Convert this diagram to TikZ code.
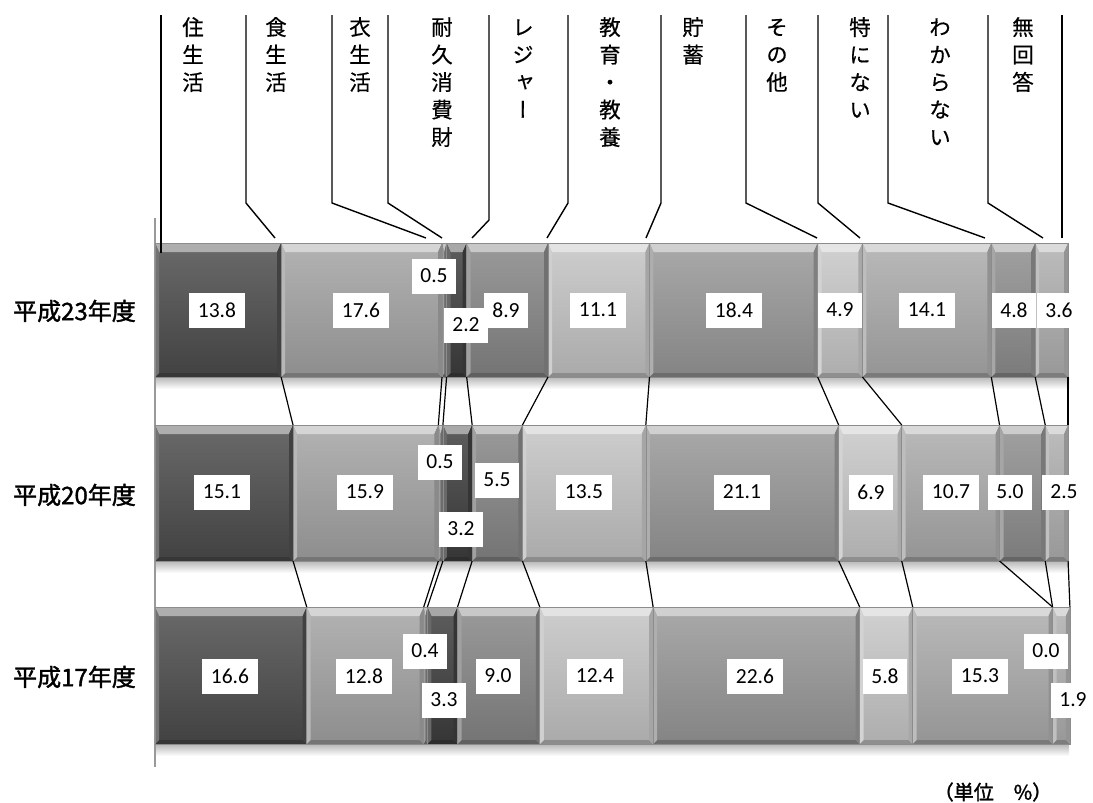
\documentclass[tikz,border=0pt]{standalone}
\usepackage{fontspec}
\newfontfamily\jpn{Noto Sans CJK JP}
\newfontfamily\jpv{Noto Sans CJK JP}[RawFeature=+vert, FakeBold=0.5]
\newfontfamily\jpb{Noto Sans CJK JP}[FakeBold=1.6]
\newfontfamily\numf{Carlito}
\definecolor{c1}{HTML}{4C4C4C}
\definecolor{c2}{HTML}{A2A2A2}
\definecolor{c3}{HTML}{808080}
\definecolor{c4}{HTML}{3E3E3E}
\definecolor{c5}{HTML}{858585}
\definecolor{c6}{HTML}{C2C2C2}
\definecolor{c7}{HTML}{979797}
\definecolor{c8}{HTML}{C6C6C6}
\definecolor{c9}{HTML}{AAAAAA}
\definecolor{c10}{HTML}{8D8D8D}
\definecolor{c11}{HTML}{AEAEAE}
\tikzset{
  val/.style={fill=white, inner xsep=8.5pt, inner ysep=0pt, minimum height=35pt,
    font=\numf\fontsize{21.5}{21.5}\selectfont, text=black},
  hdr/.style={anchor=north, inner sep=0pt, align=center,
    font=\jpv\fontsize{21.5}{27.5}\selectfont},
  yr/.style={anchor=east, inner sep=0pt, font=\jpb\fontsize{24}{24}\selectfont},
  lead/.style={black, line width=1.4pt},
  serl/.style={black, line width=1.2pt},
  axisl/.style={black!40, line width=1.6pt},
}
\newcommand\bseg[5]{%
  \pgfmathsetmacro\segsw{min(4,(#2-#1)/2)}%
  \fill[#5] (#1,#3) rectangle (#2,#4);
  \shade[top color=#5!85!white, bottom color=#5!88!black] (#1+\segsw,#3+9) rectangle (#2-\segsw,#4-4);
  \fill[#5!45!white] (#1,#3) -- (#2,#3) -- (#2-\segsw,#3+9) -- (#1+\segsw,#3+9) -- cycle;
  \fill[#5!72!black] (#1,#4) -- (#2,#4) -- (#2-\segsw,#4-4) -- (#1+\segsw,#4-4) -- cycle;
  \fill[#5!78!white] (#1,#3) -- (#1+\segsw,#3+9) -- (#1+\segsw,#4-4) -- (#1,#4) -- cycle;
  \fill[#5!85!black] (#2,#3) -- (#2-\segsw,#3+9) -- (#2-\segsw,#4-4) -- (#2,#4) -- cycle;
  \draw[black!45, line width=0.6pt] (#1,#3) rectangle (#2,#4);
}
\begin{document}
\begin{tikzpicture}[x=1pt,y=-1pt]
\useasboundingbox (0,0) rectangle (1093,803);

% axis
\coordinate (axT) at (155,218);
\coordinate (axB) at (155,767);
\draw[axisl] (axT) -- (axB);

% bars
\foreach \rr/\yt/\yb/\lst in {
  1/243/377/{13.8,31.4,31.9,34.1,43.0,54.1,72.5,77.4,91.5,96.3,99.9},
  2/425/561/{15.1,31.0,31.5,34.7,40.2,53.7,74.8,81.7,92.4,97.4,99.9},
  3/607/744/{16.6,29.4,29.8,33.1,42.1,54.5,77.1,82.9,98.2,98.2,100.1}} {
  \shade[top color=black!28, bottom color=white] (156,\yb) rectangle (1069,\yb+12);
  \foreach \cc [count=\kk, remember=\cc as \cprev (initially 0)] in \lst {
    \pgfmathsetmacro\xa{155+9.14*\cprev}
    \pgfmathsetmacro\xb{155+9.14*\cc}
    \coordinate (r\rr t\kk) at (\xb,\yt);
    \coordinate (r\rr b\kk) at (\xb,\yb);
    \bseg{\xa}{\xb}{\yt}{\yb}{c\kk}
  }
}

% series lines between rows
\foreach \kk in {1,...,11} {
  \draw[serl] (r1b\kk) -- (r2t\kk);
  \draw[serl] (r2b\kk) -- (r3t\kk);
}

% header leader lines
\coordinate (ht1) at (161,15);
\coordinate (he1) at (161,253);
\draw[lead] (ht1) -- (he1);
\foreach \ii/\xt/\yk/\xe in {2/246/203/275, 3/332/203/426, 4/388/203/442,
  5/489/220/472, 6/568/203/547, 7/661/203/646, 8/746/203/817, 9/818/203/860,
  10/888/203/985, 11/988/203/1043} {
  \coordinate (ht\ii) at (\xt,15);
  \coordinate (hk\ii) at (\xt,\yk);
  \coordinate (he\ii) at (\xe,238);
  \draw[lead] (ht\ii) -- (hk\ii) -- (he\ii);
}
\coordinate (ht12) at (1062,15);
\coordinate (he12) at (1062,238);
\draw[lead] (ht12) -- (he12);

% header labels
\node[hdr] (h1) at (193,17) {\rule{0pt}{18pt}住\\生\\活};
\node[hdr] (h2) at (276,17) {\rule{0pt}{18pt}食\\生\\活};
\node[hdr] (h3) at (360,17) {\rule{0pt}{18pt}衣\\生\\活};
\node[hdr] (h4) at (442,17) {\rule{0pt}{18pt}耐\\久\\消\\費\\財};
\node[hdr] (h5) at (523,17) {\rule{0pt}{18pt}レ\\ジ\\ャ\\ー};
\node[hdr] (h6) at (610,17) {\rule{0pt}{18pt}教\\育\\・\\教\\養};
\node[hdr] (h7) at (693,17) {\rule{0pt}{18pt}貯\\蓄};
\node[hdr] (h8) at (777,17) {\rule{0pt}{18pt}そ\\の\\他};
\node[hdr] (h9) at (860,17) {\rule{0pt}{18pt}特\\に\\な\\い};
\node[hdr] (h10) at (940,17) {\rule{0pt}{18pt}わ\\か\\ら\\な\\い};
\node[hdr] (h11) at (1023,17) {\rule{0pt}{18pt}無\\回\\答};

% year labels
\node[yr] (y1) at (136,311) {平成23年度};
\node[yr] (y2) at (136,495) {平成20年度};
\node[yr] (y3) at (136,677) {平成17年度};

% value labels row 1
\node[val] (v1-1) at (217,310) {13.8};
\node[val] (v1-2) at (361,310) {17.6};
\node[val] (v1-3) at (434,276) {0.5};
\node[val] (v1-4) at (466,325) {2.2};
\node[val] (v1-5) at (506,310) {8.9};
\node[val] (v1-6) at (598,310) {11.1};
\node[val] (v1-7) at (734,310) {18.4};
\node[val] (v1-8) at (840,310) {4.9};
\node[val] (v1-9) at (927,310) {14.1};
\node[val] (v1-10) at (1014,310) {4.8};
\node[val] (v1-11) at (1059,310) {3.6};
% row 2
\node[val] (v2-1) at (222,492) {15.1};
\node[val] (v2-2) at (365,492) {15.9};
\node[val] (v2-3) at (440,462) {0.5};
\node[val] (v2-4) at (461,529) {3.2};
\node[val] (v2-5) at (497,480) {5.5};
\node[val] (v2-6) at (584,492) {13.5};
\node[val] (v2-7) at (742,492) {21.1};
\node[val] (v2-8) at (871,492) {6.9};
\node[val] (v2-9) at (951,492) {10.7};
\node[val] (v2-10) at (1010,492) {5.0};
\node[val] (v2-11) at (1064,492) {2.5};
% row 3
\node[val] (v3-1) at (230,676) {16.6};
\node[val] (v3-2) at (364,676) {12.8};
\node[val] (v3-3) at (425,651) {0.4};
\node[val] (v3-4) at (444,700) {3.3};
\node[val] (v3-5) at (498,676) {9.0};
\node[val] (v3-6) at (595,676) {12.4};
\node[val] (v3-7) at (755,676) {22.6};
\node[val] (v3-8) at (885,676) {5.8};
\node[val] (v3-9) at (980,676) {15.3};
\node[val] (v3-10) at (1046,651) {0.0};
\node[val] (v3-11) at (1073,700) {1.9};

% unit
\node[inner sep=0pt, font=\jpb\fontsize{20}{20}\selectfont] (unit) at (993,792) {（単位　\%）};
\end{tikzpicture}
\end{document}
